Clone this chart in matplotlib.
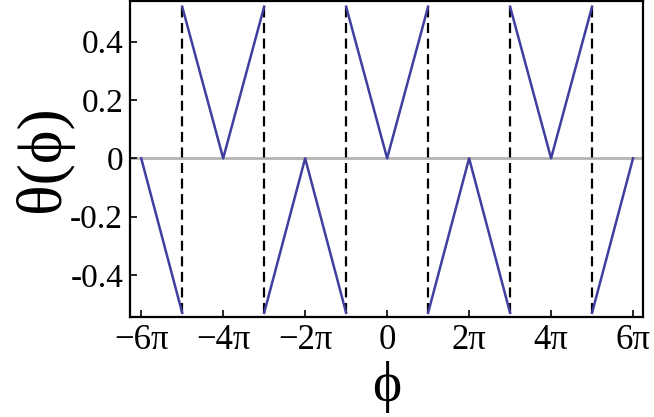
import numpy as np
import matplotlib.pyplot as plt

plt.rcParams['font.family'] = ['Liberation Serif', 'DejaVu Serif']

# branches of theta(phi), x in units of pi
seg_x = [[-6, -5], [-5, -4, -3], [-3, -2, -1], [-1, 0, 1], [1, 2, 3], [3, 4, 5], [5, 6]]
seg_y = [[0, -0.53], [0.52, 0, 0.52], [-0.53, 0, -0.53], [0.52, 0, 0.52],
         [-0.53, 0, -0.53], [0.52, 0, 0.52], [-0.53, 0]]
jumps = [-5, -3, -1, 1, 3, 5]
xticks = [-6, -4, -2, 0, 2, 4, 6]
xlabels = ['\u22126\u03c0', '\u22124\u03c0', '\u22122\u03c0', '0', '2\u03c0', '4\u03c0', '6\u03c0']
yticks = [-0.4, -0.2, 0, 0.2, 0.4]
ylabels = ['-0.4', '-0.2', '0', '0.2', '0.4']

fig = plt.figure(figsize=(6.54, 4.17), dpi=100)
ax = fig.add_axes([0.199, 0.24, 0.784, 0.758])

ax.axhline(0, color='#b4b4b4', lw=2, zorder=1)
for xs, ys in zip(seg_x, seg_y):
    ax.plot(np.array(xs) * np.pi, ys, color='#3f3f9f', lw=1.8, zorder=3)
ax.vlines(np.array(jumps) * np.pi, -0.53, 0.52, colors='black', lw=1.6,
          linestyles=(0, (4.5, 2.5)), zorder=2)

ax.set_xlim(-6.27 * np.pi, 6.24 * np.pi)
ax.set_ylim(-0.544, 0.54)
ax.set_xticks(np.array(xticks) * np.pi)
ax.set_xticklabels(xlabels)
ax.set_yticks(yticks)
ax.set_yticklabels(ylabels)
ax.tick_params(direction='in', length=5, width=1.2, labelsize=24, pad=5,
               top=False, right=False)
ax.tick_params(axis='x', labelsize=25)
for s in ax.spines.values():
    s.set_linewidth(1.6)

ax.set_xlabel('\u03d5', fontsize=40, labelpad=3)
ax.set_ylabel('\u03b8(\u03d5)', fontsize=46, labelpad=-2)

plt.savefig('out.png', dpi=100)
